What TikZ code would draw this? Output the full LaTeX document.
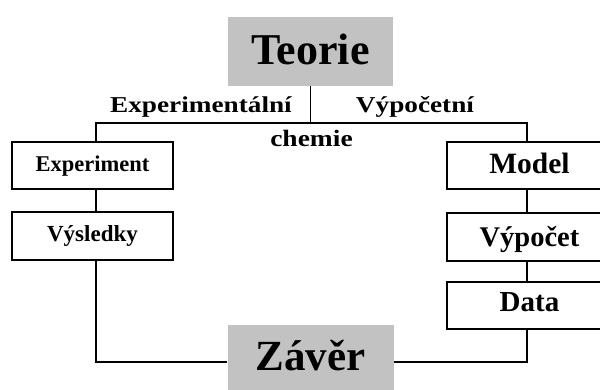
\documentclass[tikz,border=0pt]{standalone}
\usepackage{fontspec}
\usepackage{graphicx}
\setmainfont{Liberation Serif}
\definecolor{boxgray}{RGB}{194,194,194}
\newcommand{\fs}[1]{\fontsize{#1}{#1}\selectfont\bfseries}
\begin{document}
\begin{tikzpicture}[x=1pt,y=-1pt,
  graybox/.style={fill=boxgray,draw=none,inner sep=0pt,text depth=0pt},
  whitebox/.style={draw=black,line width=1.3pt,fill=white,inner sep=0pt,text depth=0pt},
  conn/.style={draw=black,line width=1.3pt},
  lbl/.style={anchor=base,inner sep=0pt}]
\useasboundingbox (0,0) rectangle (600,390);
% top and bottom grey boxes
\node[graybox,minimum width=165pt,minimum height=69pt,text height=27pt] (teorie) at (310.5,51.5) {\fs{44}Teorie};
\node[graybox,minimum width=166pt,minimum height=74pt,text height=16pt] (zaver) at (310.5,362) {\fs{43}Závěr};
% left column
\node[whitebox,minimum width=161pt,minimum height=47pt,text height=12.4pt] (exp) at (92.5,165.5) {\fs{22.5}Experiment};
\node[whitebox,minimum width=161pt,minimum height=48pt,text height=12pt] (res) at (92.5,236) {\fs{23}Výsledky};
% right column
\node[whitebox,minimum width=165pt,minimum height=47pt,text height=15.6pt] (model) at (529.5,165.5) {\fs{29.5}Model};
\node[whitebox,minimum width=165pt,minimum height=48pt,text height=20pt] (calc) at (529.5,237) {\fs{28.5}Výpočet};
\node[whitebox,minimum width=165pt,minimum height=47pt,text height=13pt] (data) at (529.5,305.5) {\fs{29}Data};
% labels
\node[lbl] (lexp) at (201,113) {\fs{22.7}\scalebox{1.2}[1]{Experimentální}};
\node[lbl] (lcomp) at (415,113) {\fs{22.7}\scalebox{1.2}[1]{Výpočetní}};
\node[lbl] (lchem) at (311.5,147) {\fs{23.5}\scalebox{1.17}[1]{chemie}};
% helper coordinates
\coordinate (bus) at (0,123);
\coordinate (lcol) at (96,0);
\coordinate (rcol) at (527,0);
% connectors
\draw[conn] (teorie.south) -- (teorie.south |- bus);
\draw[conn] (exp.north -| lcol) -- (lcol |- bus) -- (rcol |- bus) -- (model.north -| rcol);
\draw[conn] (exp.south -| lcol) -- (res.north -| lcol);
\draw[conn] (res.south -| lcol) |- (zaver.west);
\draw[conn] (model.south -| rcol) -- (calc.north -| rcol);
\draw[conn] (calc.south -| rcol) -- (data.north -| rcol);
\draw[conn] (data.south -| rcol) |- (zaver.east);
\end{tikzpicture}
\end{document}
